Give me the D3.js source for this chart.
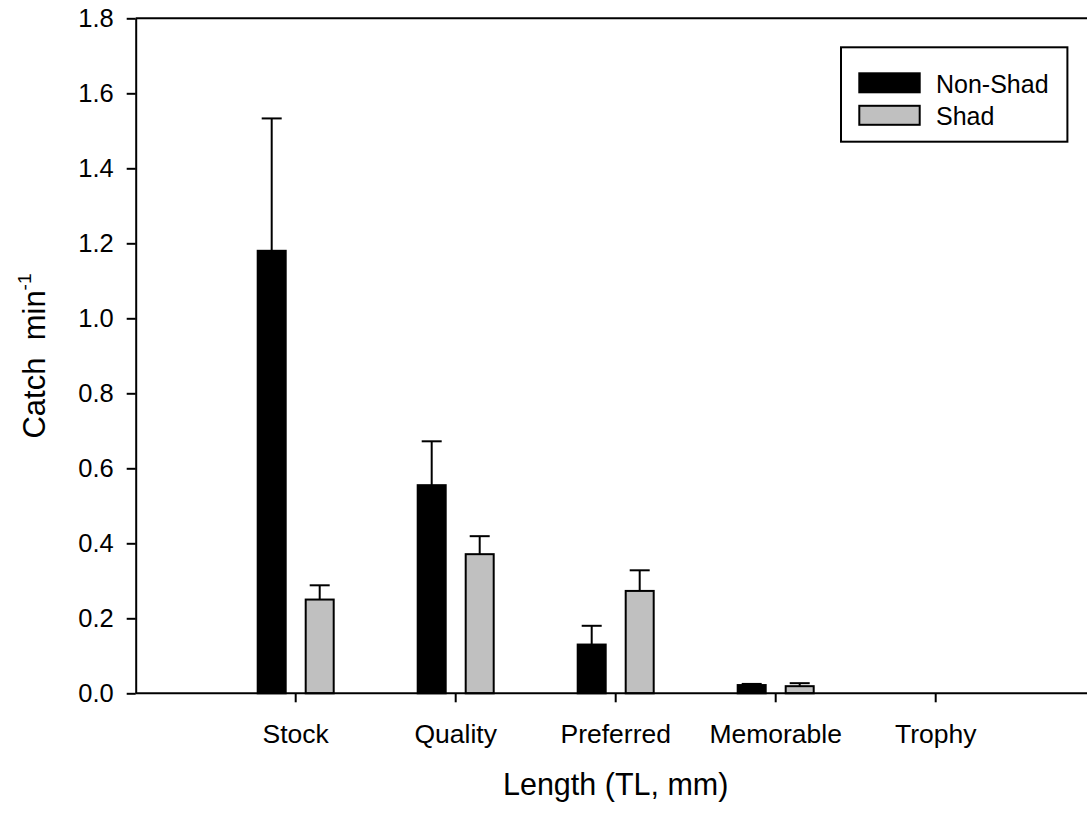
<!DOCTYPE html>
<html>
<head>
<meta charset="utf-8">
<script src="https://cdn.jsdelivr.net/npm/d3@7"></script>
<style>
  body { margin: 0; background: #fff; }
  text { font-family: "Liberation Sans", Arial, sans-serif; fill: #000; }
</style>
</head>
<body>
<div id="chart"></div>
<script>
// data
const categories = ["Stock", "Quality", "Preferred", "Memorable", "Trophy"];
const series = ["Non-Shad", "Shad"];
const nonShad = [1.18, 0.555, 0.13, 0.022, 0];
const nonShadErr = [0.353, 0.117, 0.05, 0.003, 0];
const shad = [0.25, 0.371, 0.273, 0.019, 0];
const shadErr = [0.038, 0.048, 0.055, 0.008, 0];
const yTicks = [0, 0.2, 0.4, 0.6, 0.8, 1.0, 1.2, 1.4, 1.6, 1.8];

const width = 1087, height = 814;
const plotL = 135.7, plotR = 1095.7, plotT = 18.3, plotB = 693.3;
const colors = {"Non-Shad": "#000000", "Shad": "#c0c0c0"};

const svg = d3.select("#chart").append("svg")
  .attr("width", width)
  .attr("height", height);

// x: five categories, one empty slot on each side
const step = (plotR - plotL) / 6;
const x = d3.scaleBand()
  .domain(categories)
  .range([plotL + step / 2, plotR - step / 2]);

const xSub = d3.scaleBand()
  .domain(series)
  .range([-48, 48])
  .paddingInner(0.375)
  .paddingOuter(0.1875);

const y = d3.scaleLinear()
  .domain([0, 1.8])
  .range([plotB, plotT]);

// rows for the bars
const rows = [];
categories.forEach((c, i) => {
  rows.push({cat: c, s: "Non-Shad", v: nonShad[i], e: nonShadErr[i]});
  rows.push({cat: c, s: "Shad", v: shad[i], e: shadErr[i]});
});
const shown = rows.filter(d => d.v > 0);
const cx = d => x(d.cat) + x.bandwidth() / 2 + xSub(d.s) + xSub.bandwidth() / 2;

// error bars (upper only)
const err = svg.append("g").attr("stroke", "#000").attr("stroke-width", 2);
err.selectAll("line.stem")
  .data(shown).enter()
  .append("line")
  .attr("x1", cx)
  .attr("x2", cx)
  .attr("y1", d => y(d.v))
  .attr("y2", d => y(d.v + d.e));
err.selectAll("line.cap")
  .data(shown).enter()
  .append("line")
  .attr("x1", d => cx(d) - 10)
  .attr("x2", d => cx(d) + 10)
  .attr("y1", d => y(d.v + d.e))
  .attr("y2", d => y(d.v + d.e));

// bars
svg.append("g")
  .selectAll("rect")
  .data(shown).enter()
  .append("rect")
  .attr("x", d => x(d.cat) + x.bandwidth() / 2 + xSub(d.s) + 1)
  .attr("width", xSub.bandwidth() - 2)
  .attr("y", d => y(d.v))
  .attr("height", d => y(0) - y(d.v))
  .attr("fill", d => colors[d.s])
  .attr("stroke", "#000")
  .attr("stroke-width", 2);

// frame lines
svg.append("line")
  .attr("x1", plotL).attr("x2", plotR)
  .attr("y1", y(1.8)).attr("y2", y(1.8))
  .attr("stroke", "#000").attr("stroke-width", 2);
svg.append("line")
  .attr("x1", plotL).attr("x2", plotR)
  .attr("y1", y(0)).attr("y2", y(0))
  .attr("stroke", "#000").attr("stroke-width", 2);

// Y axis
const yAxis = svg.append("g")
  .attr("transform", "translate(" + plotL + ",0)")
  .call(d3.axisLeft(y).tickValues(yTicks).tickFormat(d3.format(".1f"))
    .tickSize(9).tickSizeOuter(0).tickPadding(13));
yAxis.selectAll("path, line").attr("stroke", "#000").attr("stroke-width", 2);
yAxis.selectAll("text").style("font-size", "25.5px").attr("fill", "#000");

// X axis
const xAxis = svg.append("g")
  .attr("transform", "translate(0," + plotB + ")")
  .call(d3.axisBottom(x).tickSize(9).tickSizeOuter(0).tickPadding(22));
xAxis.select(".domain").remove();
xAxis.selectAll("line").attr("stroke", "#000").attr("stroke-width", 2);
xAxis.selectAll("text").style("font-size", "26.5px").attr("fill", "#000");

// axis titles
svg.append("text")
  .attr("x", (plotL + plotR) / 2)
  .attr("y", 795)
  .attr("text-anchor", "middle")
  .style("font-size", "30.5px")
  .text("Length (TL, mm)");

const yt = svg.append("text")
  .attr("transform", "translate(45,356) rotate(-90)")
  .attr("text-anchor", "middle")
  .style("font-size", "31px");
yt.append("tspan").text("Catch\u00a0\u00a0min");
yt.append("tspan").attr("dy", -14).style("font-size", "19px").text("-1");

// legend
const lg = svg.append("g");
lg.append("rect")
  .attr("x", 841).attr("y", 47.3)
  .attr("width", 226.4).attr("height", 94.4)
  .attr("fill", "#fff").attr("stroke", "#000").attr("stroke-width", 2);
const item = lg.selectAll("g.item")
  .data(series).enter()
  .append("g")
  .attr("transform", (d, i) => "translate(0," + (i * 32.5) + ")");
item.append("rect")
  .attr("x", 859.3).attr("y", 73.3)
  .attr("width", 60.4).attr("height", 19)
  .attr("fill", d => colors[d])
  .attr("stroke", "#000").attr("stroke-width", 2);
item.append("text")
  .attr("x", 936).attr("y", 92.5)
  .style("font-size", "25px")
  .text(d => d);
</script>
</body>
</html>
